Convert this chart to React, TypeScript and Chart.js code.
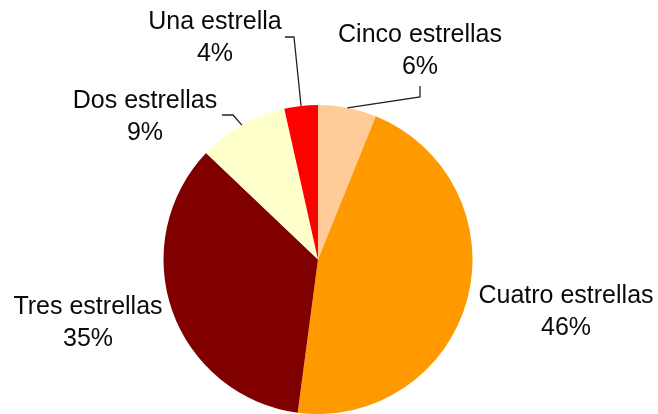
import React, { useEffect, useRef } from "react";
import { Chart, registerables } from "chart.js";

Chart.register(...registerables);

const categories = ["Cinco estrellas", "Cuatro estrellas", "Tres estrellas", "Dos estrellas", "Una estrella"];
const shares = [6.1, 46.0, 35.0, 9.4, 3.5];
const pctLabels = ["6%", "46%", "35%", "9%", "4%"];
const colors = ["#FFCC99", "#FF9900", "#800000", "#FFFFCC", "#FF0000"];

// label placement: text center x, first-line center y, and optional leader elbow
const labelPlacement = [
  { x: 420, y: 35, elbow: [[420, 86], [420, 97]] },
  { x: 566, y: 296, elbow: null },
  { x: 88, y: 307, elbow: null },
  { x: 145, y: 101, elbow: [[222, 115], [233, 115]] },
  { x: 215, y: 22, elbow: [[285, 37], [294, 37]] },
];

const labelPlugin = {
  id: "pieLabels",
  afterDraw(chart: any) {
    const ctx = chart.ctx;
    const meta = chart.getDatasetMeta(0);
    ctx.save();
    ctx.font = "25px 'Liberation Sans', Arial, sans-serif";
    ctx.fillStyle = "#0a0a0a";
    ctx.textAlign = "center";
    ctx.textBaseline = "middle";
    meta.data.forEach((arc: any, i: number) => {
      const p = labelPlacement[i];
      ctx.fillText(categories[i], p.x, p.y);
      ctx.fillText(pctLabels[i], p.x, p.y + 32);
      if (p.elbow) {
        const mid = (arc.startAngle + arc.endAngle) / 2;
        const ex = arc.x + Math.cos(mid) * arc.outerRadius;
        const ey = arc.y + Math.sin(mid) * arc.outerRadius;
        ctx.beginPath();
        ctx.strokeStyle = "#222";
        ctx.lineWidth = 1.3;
        ctx.moveTo(p.elbow[0][0], p.elbow[0][1]);
        ctx.lineTo(p.elbow[1][0], p.elbow[1][1]);
        ctx.lineTo(ex, ey);
        ctx.stroke();
      }
    });
    ctx.restore();
  },
};

export default function App() {
  const ref = useRef<HTMLCanvasElement>(null);
  useEffect(() => {
    const chart = new Chart(ref.current as HTMLCanvasElement, {
      type: "pie",
      data: {
        labels: categories,
        datasets: [
          {
            data: shares,
            backgroundColor: colors,
            borderWidth: 0,
          },
        ],
      },
      options: {
        responsive: false,
        animation: false,
        layout: { padding: { left: 163, right: 185, top: 105, bottom: 0 } },
        plugins: { legend: { display: false }, tooltip: { enabled: false } },
      },
      plugins: [labelPlugin],
    });
    return () => chart.destroy();
  }, []);
  return (
    <div style={{ position: "absolute", left: 0, top: 0, width: 658, height: 414, background: "#fff" }}>
      <canvas ref={ref} width={658} height={414} />
    </div>
  );
}
